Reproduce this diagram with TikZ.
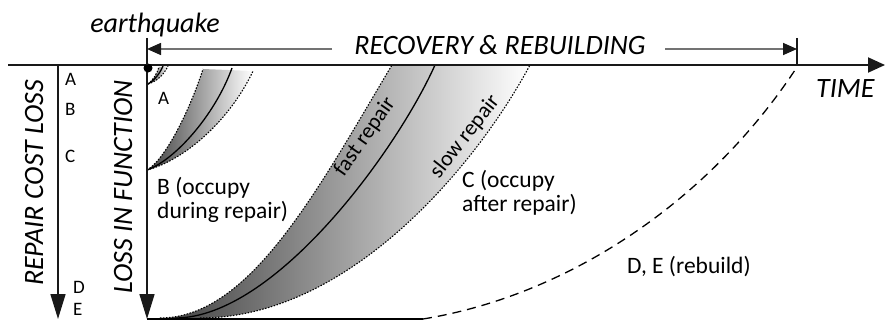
\documentclass[tikz,border=0pt]{standalone}
\usepackage{fontspec}
\setmainfont{Carlito}
\usetikzlibrary{arrows.meta}
\begin{document}
\begin{tikzpicture}[x=1pt,y=-1pt,
  axis/.style={line width=1.6pt, draw=black!90},
  axistip/.style={-{Triangle[length=25pt,width=15pt]}},
  timetip/.style={-{Triangle[length=17pt,width=15pt]}},
  rec/.style={draw=black!55, line width=1.6pt, -{Triangle[length=14pt,width=12pt,color=black!90]}},
  tick/.style={line width=1.3pt, draw=black!90},
  bigital/.style={font=\fontsize{28}{32}\selectfont\itshape, inner sep=0pt},
  letter/.style={font=\fontsize{19}{22}\selectfont, inner sep=0pt, anchor=base west},
  note/.style={font=\fontsize{23.5}{23.5}\selectfont, inner sep=0pt, align=left, anchor=west},
  along/.style={font=\fontsize{22}{24}\selectfont, inner sep=0pt},
  dotcurve/.style={line width=1.1pt, dash pattern=on 1.5pt off 1.5pt},
  solidcurve/.style={line width=1.3pt},
  band/.style={left color=black!75, right color=white},
  rebuild/.style={line width=1.3pt, dash pattern=on 9pt off 6pt}
]
\useasboundingbox (0,0) rectangle (885,321);

% --- shaded bands ---
\coordinate (A0) at (148,84);
\coordinate (B0) at (147,170);
\coordinate (Cf0) at (160,318);
\coordinate (Cm0) at (175,318);
\coordinate (Cs0) at (200,318);
\shade[band] (A0) .. controls (153,80) and (157,74) .. (159,67) -- (168,66) .. controls (164,74) and (158,81) .. (A0) -- cycle;
\shade[band] (B0) .. controls (165,160) and (190,110) .. (203,69) -- (253,71) .. controls (230,120) and (185,160) .. (B0) -- cycle;
\shade[band] (Cf0) .. controls (250,318) and (318,189) .. (392,65) -- (530,65) .. controls (477,164) and (350,318) .. (Cs0) -- cycle;

% --- curves A ---
\coordinate (Af) at (159,67);
\coordinate (Am) at (163,66);
\coordinate (As) at (168,66);
\draw[dotcurve] (A0) .. controls (153,80) and (157,74) .. (Af);
\draw[solidcurve] (A0) .. controls (155,80) and (160,73) .. (Am);
\draw[dotcurve] (A0) .. controls (158,81) and (164,74) .. (As);

% --- curves B ---
\coordinate (Bf) at (203,69);
\coordinate (Bm) at (232,68);
\coordinate (Bs) at (253,71);
\draw[dotcurve] (B0) .. controls (165,160) and (190,110) .. (Bf);
\draw[solidcurve] (B0) .. controls (175,160) and (215,115) .. (Bm);
\draw[dotcurve] (B0) .. controls (185,160) and (230,120) .. (Bs);

% --- curves C ---
\coordinate (Cf) at (392,65);
\coordinate (Cm) at (435,65);
\coordinate (Cs) at (530,65);
\draw[dotcurve] (Cf0) .. controls (250,318) and (318,189) .. (Cf);
\draw[solidcurve] (Cm0) .. controls (275,318) and (397,150) .. (Cm);
\draw[dotcurve] (Cs0) .. controls (350,318) and (477,164) .. (Cs);

% --- rebuild D, E ---
\coordinate (D0) at (147,319);
\coordinate (D1) at (423,319);
\coordinate (R1) at (797,67);
\draw[solidcurve] (D0) -- (D1);
\draw[rebuild] (D1) .. controls (570,295) and (710,200) .. (R1);

% --- axes ---
\coordinate (T0) at (8,65);
\coordinate (T1) at (885,65);
\draw[axis, line width=2pt, timetip] (T0) -- (T1);
\coordinate (L0) at (147,65);
\coordinate (L1) at (147,319);
\draw[axis, axistip] (L0) -- (L1);
\coordinate (P0) at (58,65);
\coordinate (P1) at (58,319);
\draw[axis, axistip] (P0) -- (P1);
\fill[black] (148,68) circle (4.5pt);

% --- recovery span ---
\coordinate (K0) at (147,38);
\coordinate (K1) at (797,38);
\coordinate (K0b) at (147,65);
\coordinate (K1b) at (797,65);
\draw[tick] (K0) -- (K0b);
\draw[tick] (K1) -- (K1b);
\node[bigital, anchor=base] (rec) at (500,55) {RECOVERY \& REBUILDING};
\coordinate (RL) at (147,49);
\coordinate (RR) at (797,49);
\coordinate (RLs) at (332,49);
\coordinate (RRs) at (665,49);
\draw[rec] (RLs) -- (RL);
\draw[rec] (RRs) -- (RR);

% --- labels ---
\node[bigital, anchor=base] (eq) at (155,33) {earthquake};
\node[bigital, anchor=base west] (time) at (816,97) {TIME};
\node[bigital, rotate=90, anchor=base] (rcl) at (43,183) {REPAIR COST LOSS};
\node[bigital, rotate=90, anchor=base] (lif) at (132,187) {LOSS IN FUNCTION};

\node[letter] (lA) at (65,85) {A};
\node[letter] (lB) at (65,115) {B};
\node[letter] (lC) at (65,162) {C};
\node[letter] (lD) at (73,293) {D};
\node[letter] (lE) at (73,315) {E};

\node[letter] (cA) at (158,104) {A};
\node[note] (cB) at (157,200) {B (occupy\\during repair)};
\node[note] (cC) at (462,193) {C (occupy\\after repair)};
\node[note, anchor=base west] (cDE) at (627,273) {D, E (rebuild)};

\node[along, rotate=55] (fast) at (365,137) {fast repair};
\node[along, rotate=52] (slow) at (465,137) {slow repair};
\end{tikzpicture}
\end{document}
